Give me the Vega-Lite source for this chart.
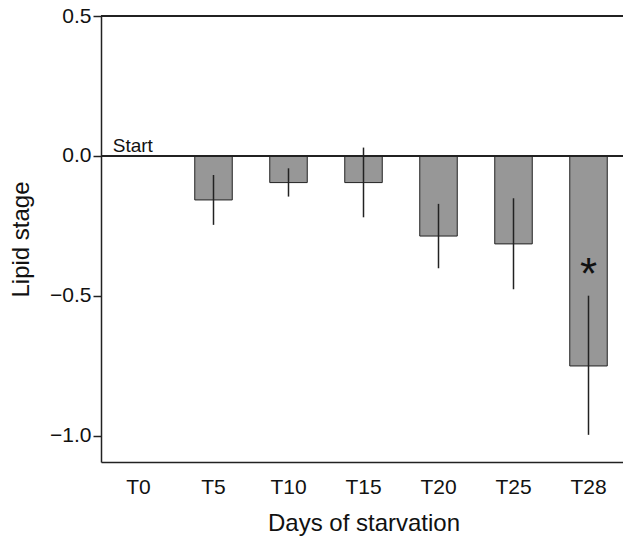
{
  "$schema": "https://vega.github.io/schema/vega-lite/v6.json",
  "autosize": {"type": "none"},
  "padding": {"left": 101, "top": 16, "right": 0, "bottom": 80},
  "width": 522,
  "height": 446,
  "background": "white",
  "config": {
    "view": {"stroke": null},
    "font": "Liberation Sans",
    "axis": {"grid": false, "domainColor": "#222", "domainWidth": 1.5, "tickColor": "#222", "labelColor": "#111", "titleColor": "#111", "labelFont": "Liberation Sans", "titleFont": "Liberation Sans", "titleFontWeight": "normal"}
  },
  "datasets": {
    "bars": [
      {"day": "T0", "mean": 0, "lo": null, "hi": null},
      {"day": "T5", "mean": -0.157, "lo": -0.246, "hi": -0.068},
      {"day": "T10", "mean": -0.095, "lo": -0.145, "hi": -0.044},
      {"day": "T15", "mean": -0.095, "lo": -0.219, "hi": 0.03},
      {"day": "T20", "mean": -0.286, "lo": -0.401, "hi": -0.171},
      {"day": "T25", "mean": -0.314, "lo": -0.476, "hi": -0.151},
      {"day": "T28", "mean": -0.75, "lo": -0.996, "hi": -0.499}
    ],
    "notes": [
      {"day": "T28", "y": -0.41, "label": "*"}
    ],
    "start": [
      {"day": "T0", "y": 0, "label": "Start"}
    ]
  },
  "layer": [
    {
      "data": {"name": "bars"},
      "mark": {"type": "bar", "fill": "#979797", "stroke": "#222", "strokeWidth": 1},
      "encoding": {
        "x": {
          "field": "day", "type": "nominal", "sort": null,
          "scale": {"type": "band", "range": [0, 525], "paddingInner": 0.5, "paddingOuter": 0.25},
          "axis": {"title": "Days of starvation", "ticks": false, "labelAngle": 0, "labelFontSize": 21, "labelPadding": 14, "titleFontSize": 24, "titlePadding": 14}
        },
        "y": {
          "field": "mean", "type": "quantitative",
          "scale": {"domain": [-1.093, 0.5], "nice": false, "zero": false},
          "axis": {"title": "Lipid stage", "values": [-1, -0.5, 0, 0.5], "format": ".1f", "tickSize": 8, "tickWidth": 1.5, "labelFontSize": 21, "labelPadding": 2, "titleFontSize": 24, "titlePadding": 16}
        }
      }
    },
    {
      "data": {"name": "bars"},
      "transform": [{"filter": "datum.lo != null"}],
      "mark": {"type": "rule", "color": "#222", "strokeWidth": 1.5},
      "encoding": {
        "x": {"field": "day", "type": "nominal", "sort": null},
        "y": {"field": "lo", "type": "quantitative"},
        "y2": {"field": "hi"}
      }
    },
    {
      "data": {"name": "bars"},
      "mark": {"type": "rule", "color": "#222", "strokeWidth": 1.5},
      "encoding": {"y": {"datum": 0}}
    },
    {
      "data": {"name": "bars"},
      "mark": {"type": "rule", "color": "#222", "strokeWidth": 1.5},
      "encoding": {"y": {"datum": 0.5}}
    },
    {
      "data": {"name": "start"},
      "mark": {"type": "text", "align": "left", "baseline": "alphabetic", "fontSize": 19, "dx": -7, "dy": -4, "color": "#111"},
      "encoding": {
        "x": {"field": "day", "type": "nominal", "sort": null, "bandPosition": 0},
        "y": {"field": "y", "type": "quantitative"},
        "text": {"field": "label"}
      }
    },
    {
      "data": {"name": "notes"},
      "mark": {"type": "text", "align": "center", "baseline": "middle", "fontSize": 44, "dy": 5, "color": "#111"},
      "encoding": {
        "x": {"field": "day", "type": "nominal", "sort": null},
        "y": {"field": "y", "type": "quantitative"},
        "text": {"field": "label"}
      }
    }
  ]
}
